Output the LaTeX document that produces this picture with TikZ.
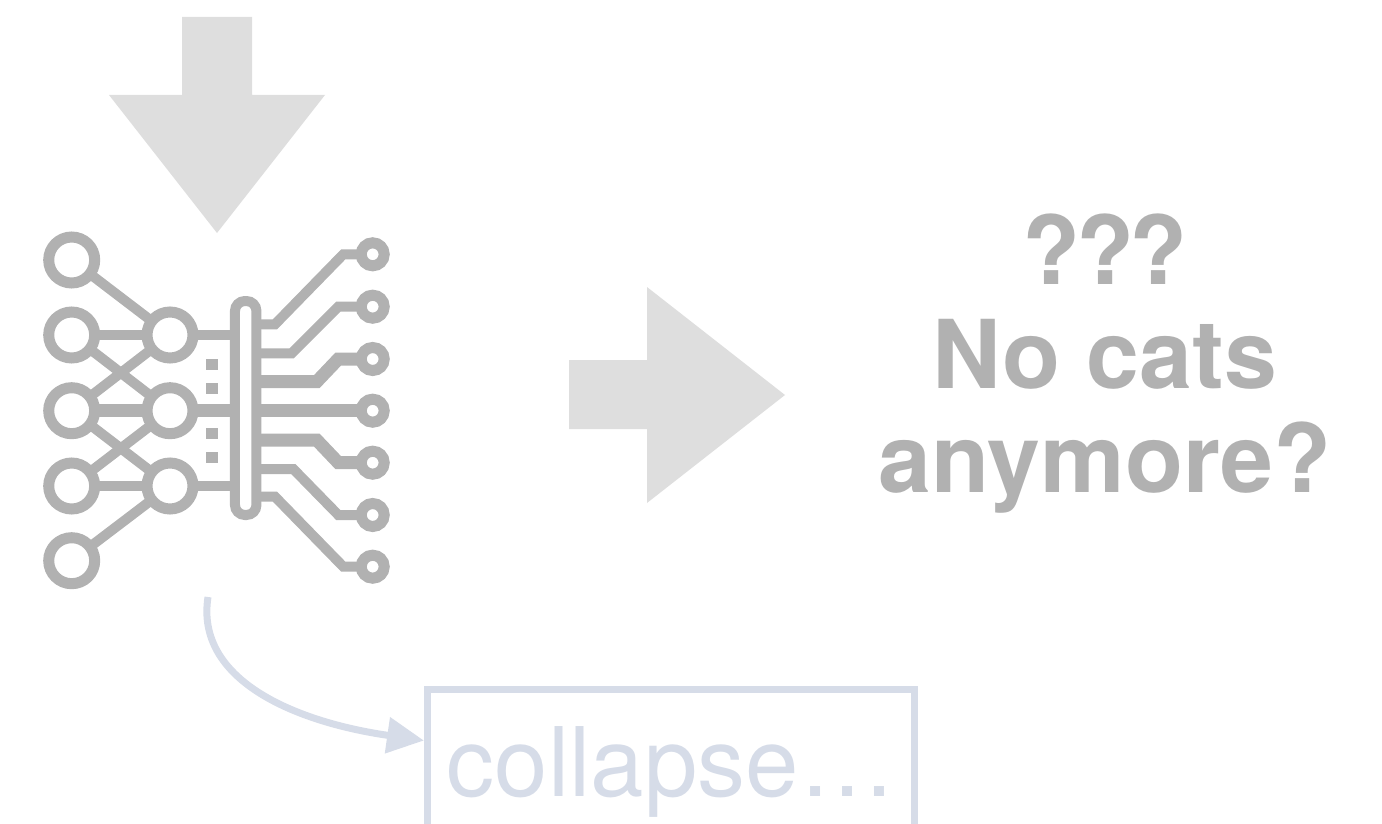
\documentclass[tikz,border=0pt]{standalone}
\usepackage{fontspec}
\setmainfont{TeX Gyre Heros}
\usetikzlibrary{arrows.meta,positioning,backgrounds}
\definecolor{icongrey}{HTML}{B1B1B1}
\definecolor{arrowgrey}{HTML}{DEDEDE}
\definecolor{faintblue}{HTML}{D6DCE8}

\begin{document}
\begin{tikzpicture}[x=1pt,y=-1pt,>=Latex,
  bigdot/.style={circle,draw=icongrey,fill=white,line width=11pt,minimum size=46pt,inner sep=0pt},
  smalldot/.style={circle,draw=icongrey,fill=white,line width=11pt,minimum size=23pt,inner sep=0pt},
  trace/.style={draw=icongrey,line width=10pt},
  thicktrace/.style={draw=icongrey,line width=13pt},
  chip/.style={fill=icongrey},
  bigarrow/.style={fill=arrowgrey}]
\useasboundingbox (0,0) rectangle (1382,824);
\clip (0,0) rectangle (1382,824);
\fill[bigarrow] (182,17) -- (252,17) -- (252,95) -- (325,95) -- (217,233) -- (109,95) -- (182,95) -- cycle;
\fill[bigarrow] (569,360) -- (647,360) -- (647,287) -- (785,395) -- (647,503) -- (647,429) -- (569,429) -- cycle;
% input and hidden layer
\node[bigdot] (big1) at (71.7,260) {};
\node[bigdot] (big2) at (71.7,335) {};
\node[bigdot] (big3) at (71.7,410.7) {};
\node[bigdot] (big4) at (71.7,486) {};
\node[bigdot] (big5) at (71.7,560.7) {};
\node[bigdot] (mid1) at (170,335) {};
\node[bigdot] (mid2) at (170,410.7) {};
\node[bigdot] (mid3) at (170,486) {};
\node[draw=icongrey,fill=white,line width=10pt,rounded corners=10pt,minimum width=21.5pt,minimum height=214pt,inner sep=0pt] (bar) at (245.7,408) {};
\fill[chip] (205.7,359) rectangle (218.3,370);
\fill[chip] (205.7,383) rectangle (218.3,393.5);
\fill[chip] (205.7,428.3) rectangle (218.3,439);
\fill[chip] (205.7,452.3) rectangle (218.3,462.7);
% output side
\node[smalldot] (out1) at (372.7,254.3) {};
\node[smalldot] (out2) at (372.7,306.7) {};
\node[smalldot] (out3) at (372.7,359) {};
\node[smalldot] (out4) at (372.7,410.7) {};
\node[smalldot] (out5) at (372.7,462.7) {};
\node[smalldot] (out6) at (372.7,515) {};
\node[smalldot] (out7) at (372.7,566.7) {};
\begin{scope}[on background layer]
\draw[trace] (big1.center) -- (mid1.center);
\draw[trace] (big2.center) -- (mid1.center);
\draw[trace] (big2.center) -- (mid2.center);
\draw[trace] (big3.center) -- (mid1.center);
\draw[thicktrace] (big3.center) -- (mid2.center);
\draw[trace] (big3.center) -- (mid3.center);
\draw[trace] (big4.center) -- (mid2.center);
\draw[trace] (big4.center) -- (mid3.center);
\draw[trace] (big5.center) -- (mid3.center);
\draw[trace] (mid1.center) -- (mid1 -| bar.center);
\draw[thicktrace] (mid2.center) -- (mid2 -| bar.center);
\draw[trace] (mid3.center) -- (mid3 -| bar.center);
\draw[trace] (bar.center |- 0,324.3) -- (275,324.3) -- (343.3,254.3) -- (out1.center);
\draw[trace] (bar.center |- 0,353.3) -- (291.7,353.3) -- (338.3,306.7) -- (out2.center);
\draw[thicktrace] (bar.center |- 0,381.7) -- (316.7,381.7) -- (338.3,359) -- (out3.center);
\draw[thicktrace] (bar.center |- out4) -- (out4.center);
\draw[thicktrace] (bar.center |- 0,440) -- (316.7,440) -- (338.3,462.7) -- (out5.center);
\draw[trace] (bar.center |- 0,469) -- (293.3,469) -- (338.3,515) -- (out6.center);
\draw[trace] (bar.center |- 0,496.7) -- (275,496.7) -- (343.3,566.7) -- (out7.center);
\end{scope}
% texts
\node[text=icongrey,align=center,inner sep=0pt,font=\fontsize{95}{104}\selectfont\bfseries] (question) at (1105,364) {?\kern-5pt?\kern-5pt?\\No cats\\anymore?};
\node[draw=faintblue,text=faintblue,line width=7pt,inner sep=0pt,minimum width=487pt,text height=106.5pt,text depth=65pt,anchor=base,font=\fontsize{96}{96}\selectfont] (box) at (671,796) {collapse…};
\coordinate (neck) at (208,597);
\draw[draw=faintblue,line width=7pt,-{Triangle[width=35pt,length=37pt,fill=faintblue]}] (neck) .. controls (195,680) and (295,722) .. (box.172);
\end{tikzpicture}
\end{document}
